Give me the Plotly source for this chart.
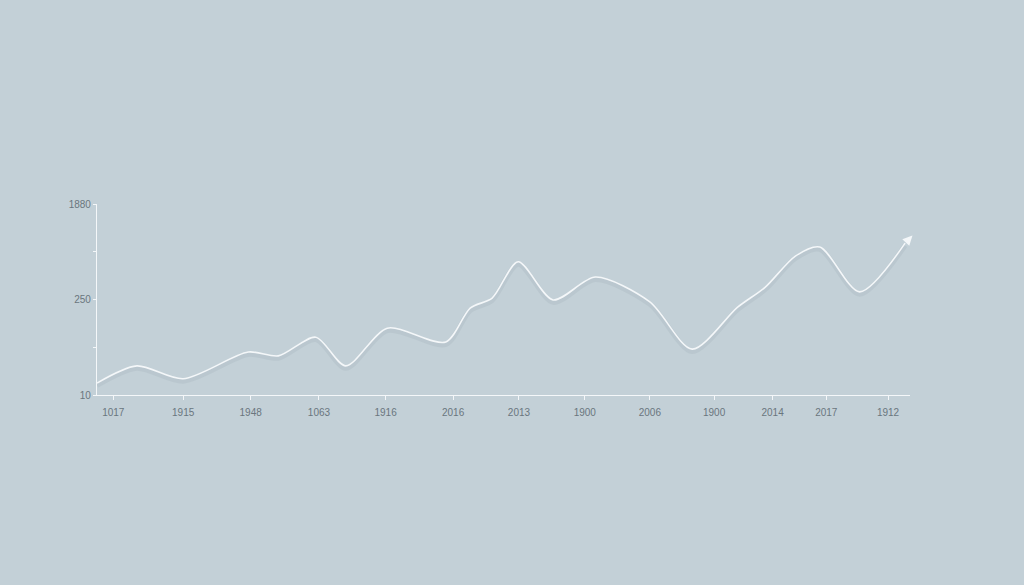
import plotly.graph_objects as go

# Data (x in plot-position units 0-100, y in tick units 0-4)
x_vals = [0, 4.9, 10.6, 18.6, 22.3, 26.9, 30.6, 35.7, 42.9, 45.9, 48.6, 51.8,
          56.1, 61.3, 68.0, 73.2, 78.8, 82.2, 85.9, 88.9, 93.8, 99.4]
y_vals = [0.25, 0.61, 0.34, 0.90, 0.82, 1.21, 0.61, 1.40, 1.11, 1.82, 2.03, 2.79,
          1.99, 2.47, 1.95, 0.96, 1.84, 2.26, 2.91, 3.10, 2.16, 3.18]

x_tick_pos = [2.0, 10.6, 18.9, 27.3, 35.5, 43.8, 51.9, 60.0, 68.0, 75.9, 83.1, 89.7, 97.3]
x_tick_text = ["1017", "1915", "1948", "1063", "1916", "2016", "2013", "1900",
               "2006", "1900", "2014", "2017", "1912"]

y_tick_pos = [0, 1, 2, 3, 4]
y_tick_text = ["10", "", "250", "", "1880"]

arrow_tip = (100.3, 3.34)

BG = "#c3d0d7"
TXT = "#6a767e"
LINE = "#f4f7f9"

fig = go.Figure()

# soft shadow under the line
fig.add_trace(go.Scatter(
    x=x_vals, y=[v - 0.05 for v in y_vals], mode="lines",
    line=dict(color="rgba(110,130,142,0.10)", width=5, shape="spline", smoothing=0.8),
    hoverinfo="skip", showlegend=False, cliponaxis=False))

fig.add_trace(go.Scatter(
    x=x_vals, y=y_vals, mode="lines",
    line=dict(color=LINE, width=1.6, shape="spline", smoothing=0.8),
    showlegend=False, cliponaxis=False))

fig.add_annotation(
    x=arrow_tip[0], y=arrow_tip[1], ax=x_vals[-1], ay=y_vals[-1],
    xref="x", yref="y", axref="x", ayref="y",
    showarrow=True, arrowhead=2, arrowsize=1.2, arrowwidth=1.6,
    arrowcolor=LINE, text="")

fig.update_layout(
    width=1024, height=585,
    paper_bgcolor=BG, plot_bgcolor=BG,
    margin=dict(l=97, r=114, t=204, b=190),
    font=dict(family="Liberation Sans, Arial, sans-serif", size=10, color=TXT),
)

fig.update_xaxes(
    range=[0, 100], showgrid=False, zeroline=False,
    showline=True, linecolor=LINE, linewidth=1.2,
    tickmode="array", tickvals=x_tick_pos, ticktext=x_tick_text,
    ticks="outside", ticklen=4, tickcolor=LINE, tickwidth=1,
    ticklabelstandoff=4,
    tickfont=dict(size=10, color=TXT))

fig.update_yaxes(
    range=[0, 4], showgrid=False, zeroline=False,
    showline=True, linecolor=LINE, linewidth=1.2,
    tickmode="array", tickvals=y_tick_pos, ticktext=y_tick_text,
    ticks="outside", ticklen=3, tickcolor=LINE, tickwidth=1,
    tickfont=dict(size=10, color=TXT))

fig.write_html("out.html", config={"displayModeBar": False},
               post_script="document.body.style.margin='0';document.body.style.background='" + BG + "';")
